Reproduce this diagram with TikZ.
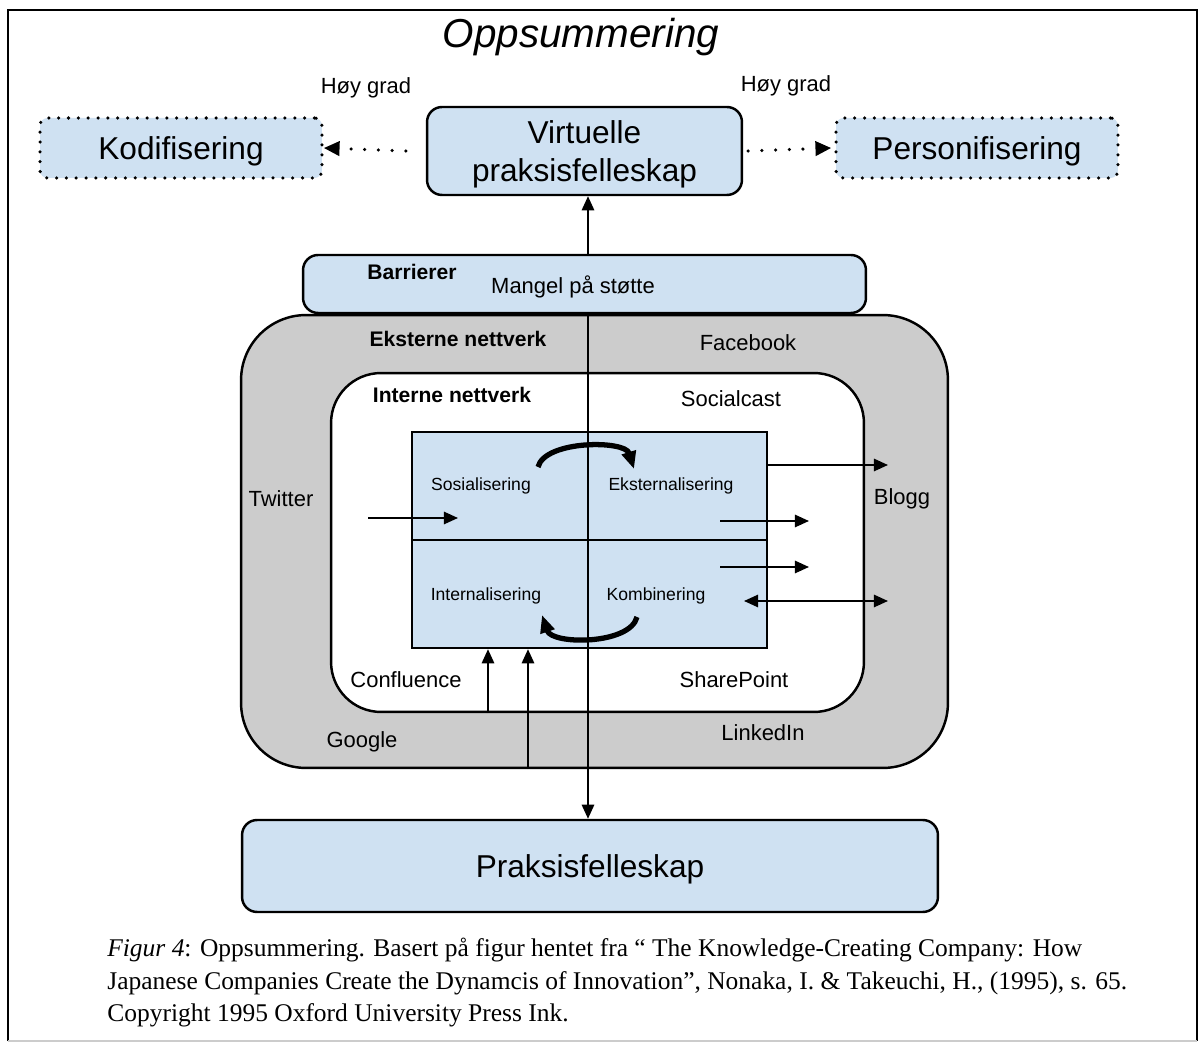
\documentclass[tikz,border=0pt]{standalone}
\usepackage{fontspec}
\setmainfont{Liberation Sans}
\newfontfamily\capfont{Liberation Serif}
\usetikzlibrary{calc,arrows.meta}
\definecolor{boxblue}{RGB}{207,225,242}
\definecolor{netgray}{RGB}{204,204,204}
\tikzset{
	bluebox/.style={draw, line width=1.4pt, fill=boxblue, rounded corners=0.3cm, inner sep=0pt, text depth=0pt},
	dotbox/.style={draw, line width=2pt, line cap=round, dash pattern=on 0pt off 5.6pt, fill=boxblue, text depth=0pt,
		rounded corners=0.15cm, minimum width=5.64cm, minimum height=1.2cm, font=\fontsize{18}{21.6}\selectfont},
	netbox/.style={draw, line width=1.4pt, inner sep=0pt},
	lbl/.style={font=\fontsize{12.5}{15}\selectfont, inner sep=0pt},
	head/.style={font=\bfseries\fontsize{12}{14}\selectfont, inner sep=0pt},
	quad/.style={font=\fontsize{10}{12}\selectfont, inner sep=0pt},
	flow/.style={line width=1.1pt, -{Triangle[length=8pt,width=7pt]}},
	turn/.style={line width=3pt, -{Triangle[length=10pt,width=8pt]}},
	hint/.style={line width=2pt, line cap=round, dash pattern=on 0pt off 7.8pt, -{Triangle[length=9pt,width=8pt]}},
	capline/.style={anchor=base west, inner sep=0pt, font=\capfont\fontsize{14.5}{18}\selectfont}
}
\begin{document}
\begin{tikzpicture}[x=0.02cm, y=-0.02cm]
			%%%%% START %%%%%
			\useasboundingbox (0, 0) rectangle (1201, 1043);
			\draw[line width=1.4pt] (8, 1041) -- (8, 10) -- (1197, 10) -- (1197, 1041);
			\draw[line width=0.8pt, color=black!20] (8, 1041) -- (1197, 1041);
			
			\node[font=\itshape\fontsize{23}{27}\selectfont] (title) at (581, 37) {Oppsummering};
			
			% top row
			\node[dotbox] (kod) at (181, 148) {Kodifisering};
			\node[bluebox, minimum width=6.3cm, minimum height=1.76cm, align=center,
				font=\fontsize{18}{21.6}\selectfont] (virt) at (584.5, 151) {Virtuelle\\praksisfelleskap};
			\node[dotbox] (pers) at (977, 148) {Personifisering};
			\node[lbl] (hoyL) at (366, 88) {Høy grad};
			\node[lbl] (hoyR) at (786, 86) {Høy grad};
			\draw[hint] ([xshift=-0.4cm]virt.west) -- (kod.east);
			\draw[hint] ([xshift=0.1cm]virt.east) -- ([xshift=-0.06cm]pers.west);
			
			% barrierer
			\node[bluebox, minimum width=11.26cm, minimum height=1.16cm] (barr) at (584.5, 284) {};
			\node[head] (barrT) at (412, 272) {Barrierer};
			\node[lbl] (mangel) at (573, 287) {Mangel på støtte};
			
			% networks
			\node[netbox, fill=netgray, rounded corners=1.3cm, minimum width=14.14cm, minimum height=9.06cm] (ext) at (594.5, 541.5) {};
			\node[netbox, fill=white, rounded corners=1.0cm, minimum width=10.66cm, minimum height=6.78cm] (int) at (597.5, 542.5) {};
			\node[netbox, fill=boxblue, minimum width=7.1cm, minimum height=4.32cm] (core) at (589.5, 540) {};
			\draw[line width=1.4pt] (core.west) -- (core.east);
			
			\node[head] (extT) at (458, 339) {Eksterne nettverk};
			\node[lbl] (fb) at (748, 343) {Facebook};
			\node[head] (intT) at (452, 395) {Interne nettverk};
			\node[lbl] (sc) at (731, 399) {Socialcast};
			\node[lbl] (tw) at (281, 499) {Twitter};
			\node[lbl] (blogg) at (902, 499) {Blogg};
			\node[lbl] (conf) at (406, 680) {Confluence};
			\node[lbl] (sp) at (734, 680) {SharePoint};
			\node[lbl] (goo) at (362, 742) {Google};
			\node[lbl] (li) at (763, 733) {LinkedIn};
			
			\node[quad] (sos) at (481, 486) {Sosialisering};
			\node[quad] (eks) at (671, 486) {Eksternalisering};
			\node[quad] (intern) at (486, 596) {Internalisering};
			\node[quad] (komb) at (656, 596) {Kombinering};
			
			% bottom
			\node[bluebox, minimum width=13.92cm, minimum height=1.84cm, font=\fontsize{18}{21.6}\selectfont] (prak) at (590, 866) {Praksisfelleskap};
			
			% connectors
			\coordinate (axis) at (588, 0);
			\draw[flow] (barr.north -| axis) -- (virt.south -| axis);
			\draw[flow] (barr.south -| axis) -- (prak.north -| axis);
			
			\draw[turn] (538, 467) .. controls (545, 440) and (625, 440) .. (634, 469);
			\draw[turn] (637, 617) .. controls (630, 645) and (552, 645) .. (542, 615);
			
			\coordinate (twS) at (368, 518);
			\coordinate (twE) at (458, 518);
			\draw[flow] (twS) -- (twE);
			\coordinate (bloggA) at (888, 465);
			\draw[flow] (core.east |- bloggA) -- (bloggA);
			\coordinate (outA) at (720, 521);
			\coordinate (outB) at (809, 521);
			\draw[flow] (outA) -- (outB);
			\coordinate (outC) at (720, 567);
			\coordinate (outD) at (809, 567);
			\draw[flow] (outC) -- (outD);
			\coordinate (kombA) at (744, 601);
			\coordinate (kombB) at (888, 601);
			\draw[flow, {Triangle[length=8pt,width=7pt]}-{Triangle[length=8pt,width=7pt]}] (kombA) -- (kombB);
			
			\coordinate (upA) at (488, 0);
			\coordinate (upB) at (528, 0);
			\draw[flow] (int.south -| upA) -- (core.south -| upA);
			\draw[flow] (ext.south -| upB) -- (core.south -| upB);
			
			% caption
			\node[capline] (cap1) at (107, 956) {\textit{Figur 4}: Oppsummering. Basert på figur hentet fra “ The Knowledge-Creating Company: How};
			\node[capline] (cap2) at (107, 989) {Japanese Companies Create the Dynamcis of Innovation”, Nonaka, I. \& Takeuchi, H., (1995), s. 65.};
			\node[capline] (cap3) at (107, 1021) {Copyright 1995 Oxford University Press Ink.};
			%%%%% END %%%%%
\end{tikzpicture}
\end{document}
